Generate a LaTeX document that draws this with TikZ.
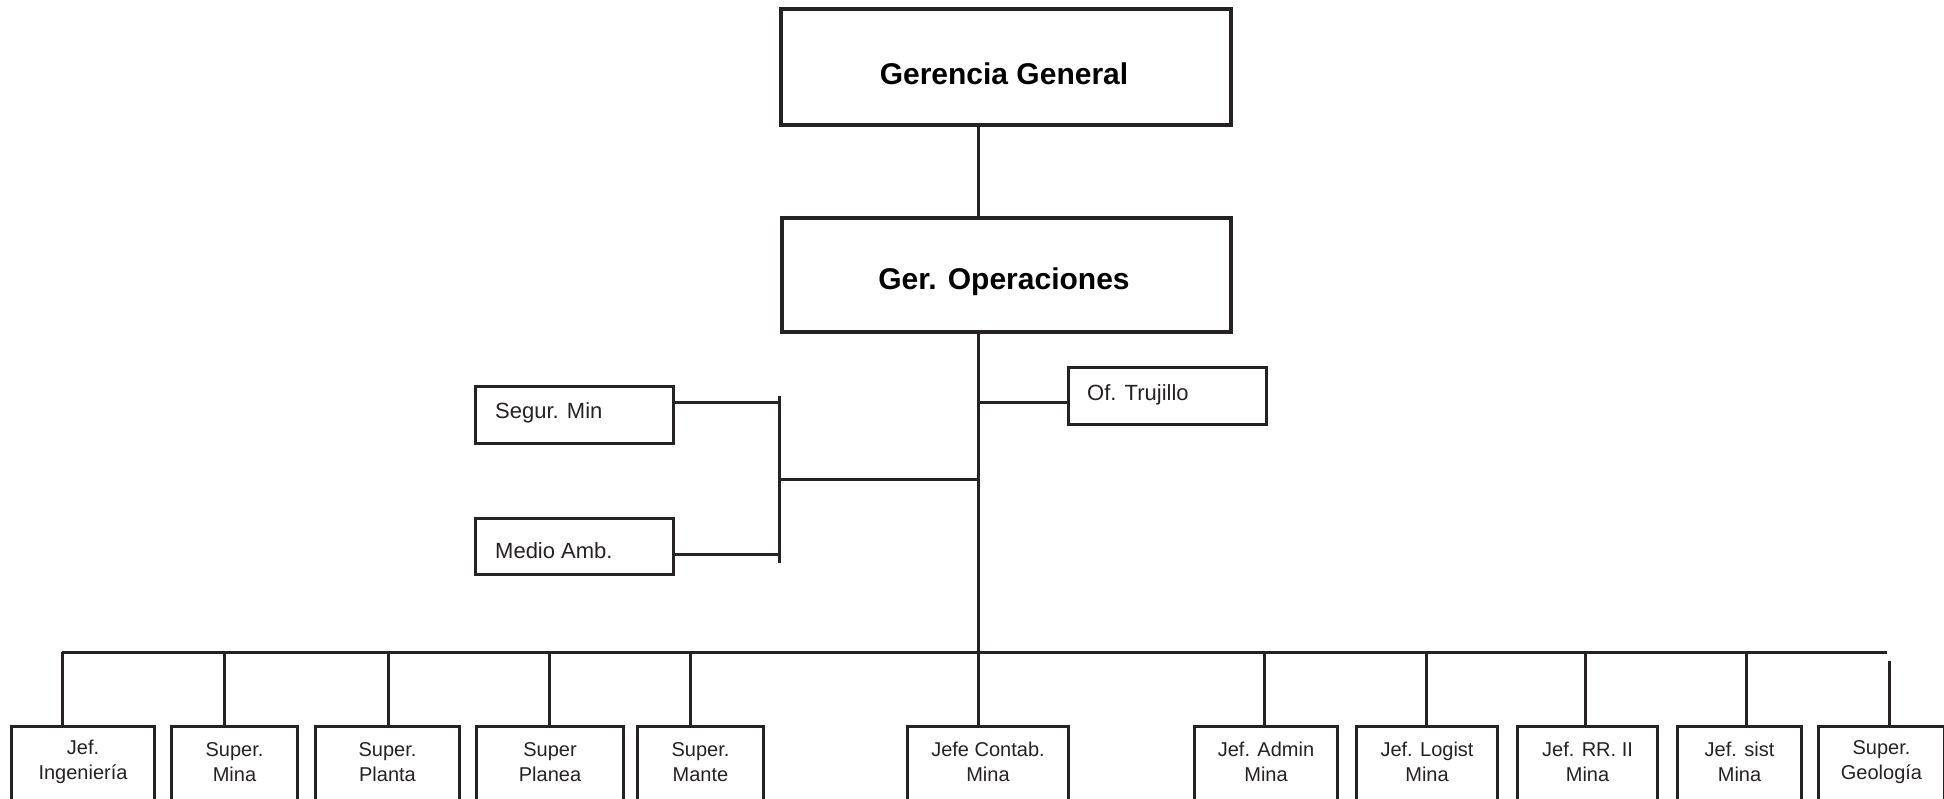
\documentclass[tikz,border=0pt]{standalone}
\usepackage{fontspec}
\setmainfont{Liberation Sans}
\definecolor{ink}{RGB}{38,34,36}
\begin{document}
\begin{tikzpicture}[x=1pt,y=-1pt,
  box/.style={draw=ink, line width=3pt, fill=white, inner sep=0pt, anchor=north west, rectangle},
  bigbox/.style={box, line width=3.6pt},
  conn/.style={draw=ink, line width=3pt},
  lbl/.style={inner sep=0pt, text=ink, font=\fontsize{20}{25}\selectfont, align=center},
  mlbl/.style={inner sep=0pt, text=ink, font=\fontsize{22}{26}\selectfont, anchor=base west},
  blbl/.style={inner sep=0pt, text=black, font=\fontsize{30}{34}\selectfont\bfseries, anchor=base}]
\clip (0,0) rectangle (1944,799);
\fill[white] (0,0) rectangle (1944,799);

% top boxes
\node[bigbox, minimum width=450pt, minimum height=116pt] (gg) at (779,7) {};
\node[blbl] (ggt) at (1004,85) {Gerencia General};
\node[bigbox, minimum width=449pt, minimum height=114pt] (op) at (780,216) {};
\node[blbl] (opt) at (1004,290) {Ger. Operaciones};

% middle boxes
\node[box, minimum width=198pt, minimum height=57pt] (seg) at (474,385) {};
\node[mlbl] (segt) at (495,419) {Segur. Min};
\node[box, minimum width=198pt, minimum height=56pt] (med) at (474,517) {};
\node[mlbl] (medt) at (495,558) {Medio Amb.};
\node[box, minimum width=198pt, minimum height=57pt] (tru) at (1067,366) {};
\node[mlbl] (trut) at (1087,401) {Of. Trujillo};

% bottom boxes
\node[box, minimum width=143pt, minimum height=110pt] (b1) at (10,725) {};
\node[box, minimum width=126pt, minimum height=110pt] (b2) at (170,725) {};
\node[box, minimum width=144pt, minimum height=110pt] (b3) at (314,725) {};
\node[box, minimum width=147pt, minimum height=110pt] (b4) at (475,725) {};
\node[box, minimum width=126pt, minimum height=110pt] (b5) at (636,725) {};
\node[box, minimum width=161pt, minimum height=110pt] (b6) at (906,725) {};
\node[box, minimum width=143pt, minimum height=110pt] (b7) at (1193,725) {};
\node[box, minimum width=141pt, minimum height=110pt] (b8) at (1355,725) {};
\node[box, minimum width=140pt, minimum height=110pt] (b9) at (1516,725) {};
\node[box, minimum width=124pt, minimum height=110pt] (b10) at (1676,725) {};
\node[box, minimum width=126pt, minimum height=110pt] (b11) at (1817,725) {};

\node[lbl] (t1) at (b1.center |- 0,762) {Jef.\\Ingeniería};
\node[lbl] (t2) at (b2.center |- 0,762) {Super.\\Mina};
\node[lbl] (t3) at (b3.center |- 0,762) {Super.\\Planta};
\node[lbl] (t4) at (b4.center |- 0,762) {Super\\Planea};
\node[lbl] (t5) at (b5.center |- 0,762) {Super.\\Mante};
\node[lbl] (t6) at (b6.center |- 0,762) {Jefe Contab.\\Mina};
\node[lbl] (t7) at (b7.center |- 0,762) {Jef. Admin\\Mina};
\node[lbl] (t8) at (b8.center |- 0,762) {Jef. Logist\\Mina};
\node[lbl] (t9) at (b9.center |- 0,762) {Jef. RR. II\\Mina};
\node[lbl] (t10) at (b10.center |- 0,762) {Jef. sist\\Mina};
\node[lbl] (t11) at (b11.center |- 0,762) {Super.\\Geología};

% connectors
\coordinate (hub) at (978,652);
\draw[conn] (gg.south -| hub) -- (op.north -| hub);
\draw[conn] (op.south -| hub) -- (hub);

\coordinate (ty) at (978,403);
\draw[conn] (ty) -- (ty -| tru.west);

\coordinate (br) at (779,479);
\draw[conn] (br) -- (br -| hub);
\coordinate (brT) at (779,396);
\coordinate (brB) at (779,563);
\draw[conn] (brT) -- (brB);
\coordinate (sy) at (779,403);
\draw[conn] (sy -| seg.east) -- (sy);
\coordinate (my) at (779,554);
\draw[conn] (my -| med.east) -- (my);

\coordinate (barL) at (62,652);
\coordinate (barR) at (1887,652);
\draw[conn] (barL) -- (barR);

\coordinate (d1) at (62,652);
\coordinate (d2) at (224,652);
\coordinate (d3) at (388,652);
\coordinate (d4) at (549,652);
\coordinate (d5) at (690,652);
\coordinate (d6) at (978,652);
\coordinate (d7) at (1264,652);
\coordinate (d8) at (1426,652);
\coordinate (d9) at (1585,652);
\coordinate (d10) at (1746,652);
\coordinate (d11) at (1889,661);
\foreach \i in {1,...,11}{
  \draw[conn] (d\i) -- (d\i |- b\i.north);
}
\end{tikzpicture}
\end{document}
